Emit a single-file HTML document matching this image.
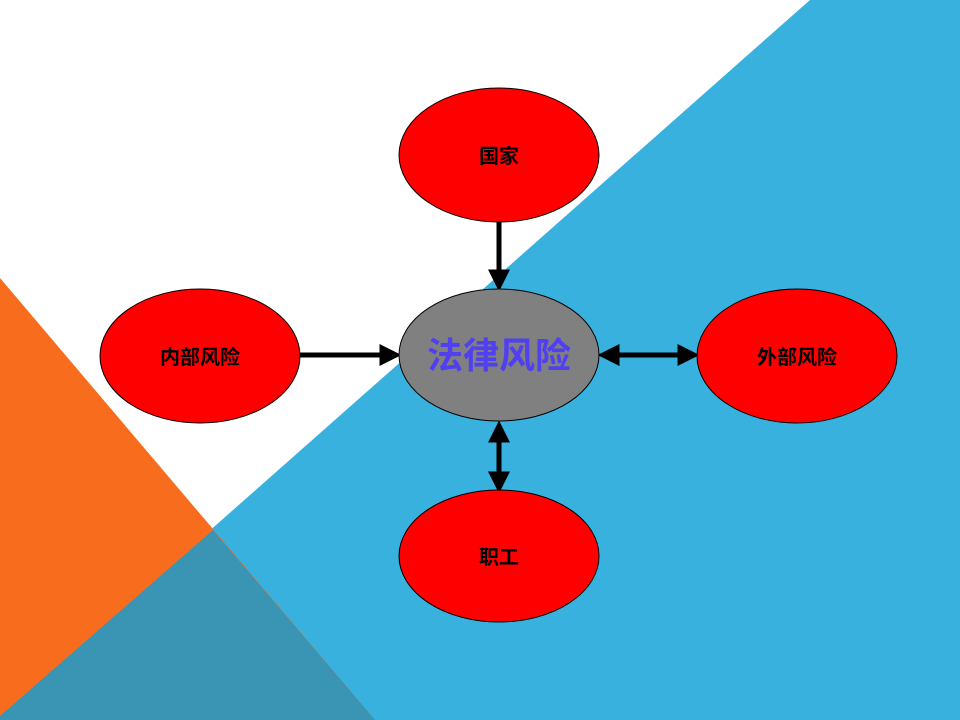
<!DOCTYPE html>
<html><head><meta charset="utf-8"><style>body{margin:0}svg{display:block}</style></head><body>
<svg width="960" height="720" xmlns="http://www.w3.org/2000/svg" font-family="Liberation Sans, Noto Sans CJK SC, sans-serif">
<rect width="960" height="720" fill="#fff"/>
<polygon points="810,0 960,0 960,720 0,720 0,716" fill="#38b1df"/>
<polygon points="0,278 375,720 0,720" fill="#f76d1d"/>
<polygon points="213,530 375,720 0,720 0,716" fill="#3a94b3"/>
<defs><marker id="a" markerWidth="4.4" markerHeight="4.4" refX="3.3" refY="2.2" orient="auto" markerUnits="strokeWidth"><path d="M0,0L4.4,2.2L0,4.4z" fill="#000"/></marker>
<marker id="b" markerWidth="4.4" markerHeight="4.4" refX="1.1" refY="2.2" orient="auto" markerUnits="strokeWidth"><path d="M4.4,0L0,2.2L4.4,4.4z" fill="#000"/></marker></defs>
<g stroke="#000" stroke-width="5">
<line x1="499" y1="222" x2="499" y2="286" marker-end="url(#a)"/>
<line x1="300" y1="355" x2="396" y2="355" marker-end="url(#a)"/>
<line x1="603" y1="355" x2="694" y2="355" marker-end="url(#a)" marker-start="url(#b)"/>
<line x1="499" y1="426" x2="499" y2="488" marker-end="url(#a)" marker-start="url(#b)"/>
</g>
<g stroke="#000" stroke-width="1">
<ellipse cx="499" cy="155" rx="100" ry="67" fill="#f00"/>
<ellipse cx="499" cy="355" rx="100" ry="66" fill="#808080"/>
<ellipse cx="200" cy="356" rx="100" ry="67" fill="#f00"/>
<ellipse cx="797" cy="356" rx="100" ry="67" fill="#f00"/>
<ellipse cx="499" cy="556" rx="100" ry="66" fill="#f00"/>
</g>
<g font-size="20" font-weight="bold" text-anchor="middle" fill="#000">
<text x="499" y="163">国家</text>
<text x="200" y="364">内部风险</text>
<text x="797" y="364">外部风险</text>
<text x="499" y="564">职工</text>
</g>
<text x="499" y="368" font-size="36" font-weight="bold" text-anchor="middle" fill="#5040f0">法律风险</text>
</svg>
</body></html>
